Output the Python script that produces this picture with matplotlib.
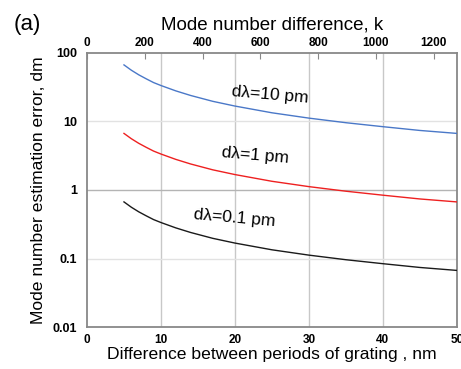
import matplotlib
matplotlib.use('Agg')
import matplotlib.pyplot as plt
from matplotlib.ticker import FixedLocator, NullLocator

plt.rcParams['font.family'] = ['Liberation Sans', 'DejaVu Sans']

# grating period difference, nm
period_diff = [5, 6, 7, 8, 9, 10, 12, 14, 17, 20, 25, 30, 35, 40, 45, 50]
# estimation error (dm) for each wavelength uncertainty
err_10pm = [67, 56, 48, 42, 37, 33.5, 28, 24, 19.7, 16.8, 13.4, 11.2, 9.6, 8.4, 7.4, 6.7]
err_1pm = [6.7, 5.6, 4.8, 4.2, 3.7, 3.35, 2.8, 2.4, 1.97, 1.68, 1.34, 1.12, 0.96, 0.84, 0.74, 0.67]
err_01pm = [0.67, 0.56, 0.48, 0.42, 0.37, 0.335, 0.28, 0.24, 0.197, 0.168, 0.134, 0.112, 0.096,
            0.084, 0.074, 0.067]

labels = ['dλ=10 pm', 'dλ=1 pm', 'dλ=0.1 pm']
label_pos = [(24.7, 24.5), (22.7, 3.2), (20.0, 0.39)]
colors = ['#4a78c8', '#ee2020', '#1a1a1a']

bottom_ticks = [0, 10, 20, 30, 40, 50]
top_ticks = [0, 200, 400, 600, 800, 1000, 1200]
y_ticks = [0.01, 0.1, 1, 10, 100]
y_ticklabels = ['0.01', '0.1', '1', '10', '100']

fig = plt.figure(figsize=(4.61, 3.69), dpi=100)
ax = fig.add_axes([0.1887, 0.1138, 0.8023, 0.7426])

for ys, c in zip([err_10pm, err_1pm, err_01pm], colors):
    ax.plot(period_diff, ys, color=c, lw=1.0, zorder=3)

for txt, (x, y) in zip(labels, label_pos):
    ax.text(x, y, txt, fontsize=12.5, rotation=-5, ha='center', va='center', zorder=4)

ax.set_yscale('log')
ax.set_xlim(0, 50)
ax.set_ylim(0.01, 100)
ax.yaxis.set_major_locator(FixedLocator(y_ticks))
ax.yaxis.set_minor_locator(NullLocator())
ax.set_yticklabels(y_ticklabels)
ax.set_xticks(bottom_ticks)

# grid
for xv in [10, 20, 30, 40]:
    ax.axvline(xv, color='#c8c8c8', lw=1.0, zorder=1)
for yv in [10, 0.1]:
    ax.axhline(yv, color='#e2e2e2', lw=1.0, zorder=1)
ax.axhline(1, color='#b4b4b4', lw=1.0, zorder=1)

for s in ax.spines.values():
    s.set_color('#888888')
    s.set_linewidth(1.3)

ax.tick_params(axis='x', length=0, labelsize=8.5, pad=5)
ax.tick_params(axis='y', length=0, labelsize=9, pad=7)
for lab in ax.get_xticklabels() + ax.get_yticklabels():
    lab.set_fontweight('bold')

ax.set_xlabel('Difference between periods of grating , nm', fontsize=12.6, labelpad=1)
ax.set_ylabel('Mode number estimation error, dm', fontsize=12.6, labelpad=5)

# top axis: mode number difference
top = ax.twiny()
top.set_xlim(0, 1280)
top.set_xticks(top_ticks)
top.tick_params(axis='x', direction='in', length=4, color='#888888', labelsize=8.5, pad=3)
for lab in top.get_xticklabels():
    lab.set_fontweight('bold')
for s in top.spines.values():
    s.set_visible(False)
top.set_xlabel('Mode number difference, k', fontsize=13.5, labelpad=5)

fig.text(0.03, 0.92, '(a)', fontsize=16, va='baseline')

fig.savefig('out.png', dpi=100)
